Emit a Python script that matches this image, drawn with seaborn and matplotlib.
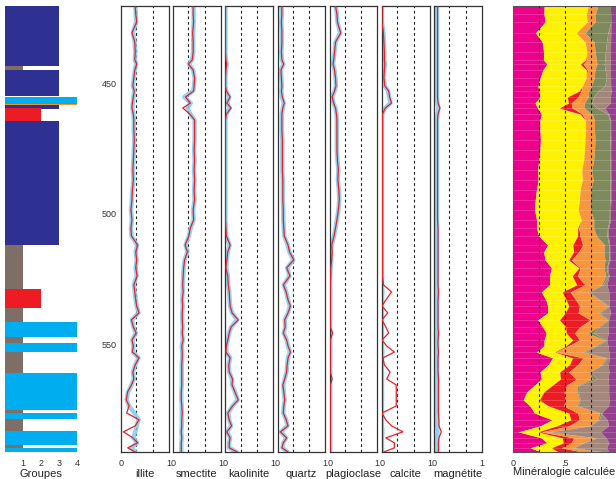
import numpy as np
import pandas as pd
import matplotlib
matplotlib.use("Agg")
import matplotlib.pyplot as plt
import seaborn as sns

# ---------------- data ----------------
profondeur = [420.5, 423.5, 426.6, 430.8, 434.3, 438.1, 441.1, 442.7, 445.0, 448.0,
              451.1, 453.0, 455.3, 457.6, 459.5, 461.8, 464.1, 467.9, 471.7, 475.5,
              479.4, 483.2, 487.0, 490.8, 494.6, 498.5, 502.3, 505.4, 508.4, 511.9,
              514.5, 517.6, 520.6, 523.7, 527.1, 529.8, 532.9, 535.2, 537.8, 540.5,
              543.2, 545.5, 548.2, 550.5, 552.8, 555.0, 557.7, 560.4, 563.1, 565.4,
              568.0, 571.1, 573.4, 576.1, 578.7, 581.0, 583.3, 585.6, 587.5, 589.4, 591.0]

illite_calc = [0.30,0.31,0.33,0.23,0.29,0.30,0.29,0.33,0.29,0.27, 0.25,0.28,0.26,0.24,0.23,0.26,0.27,0.27,0.28,0.27,
               0.26,0.25,0.26,0.24,0.23,0.21,0.23,0.21,0.22,0.35, 0.31,0.33,0.31,0.34,0.27,0.29,0.31,0.33,0.38,0.22,
               0.26,0.32,0.23,0.26,0.24,0.38,0.30,0.25,0.27,0.22, 0.14,0.11,0.17,0.12,0.38,0.30,0.05,0.25,0.35,0.14,0.30]
illite_mes = [0.30,0.31,0.32,0.25,0.29,0.30,0.29,0.32,0.29,0.27, 0.25,0.28,0.26,0.25,0.24,0.26,0.27,0.27,0.28,0.27,
              0.26,0.25,0.26,0.24,0.23,0.21,0.23,0.21,0.22,0.34, 0.31,0.33,0.31,0.33,0.27,0.29,0.31,0.33,0.37,0.23,
              0.26,0.31,0.24,0.26,0.25,0.37,0.30,0.25,0.27,0.22, 0.15,0.12,0.17,0.28,0.37,0.33,0.30,0.26,0.34,0.22,0.30]

smectite_calc = [0.42,0.42,0.43,0.41,0.42,0.42,0.40,0.32,0.42,0.45, 0.44,0.43,0.26,0.36,0.20,0.35,0.45,0.45,0.45,0.44,
                 0.45,0.44,0.45,0.44,0.45,0.42,0.43,0.36,0.33,0.25, 0.30,0.24,0.22,0.21,0.20,0.21,0.19,0.20,0.19,0.19,
                 0.20,0.19,0.21,0.18,0.19,0.19,0.18,0.18,0.18,0.18, 0.17,0.17,0.18,0.19,0.18,0.18,0.17,0.18,0.17,0.17,0.17]
smectite_mes = [0.43,0.43,0.43,0.42,0.42,0.42,0.40,0.33,0.42,0.45, 0.44,0.42,0.23,0.37,0.30,0.36,0.45,0.45,0.45,0.44,
                0.45,0.44,0.45,0.44,0.45,0.42,0.43,0.37,0.33,0.26, 0.30,0.24,0.22,0.21,0.20,0.20,0.19,0.20,0.19,0.19,
                0.20,0.19,0.20,0.18,0.19,0.19,0.18,0.18,0.18,0.18, 0.17,0.17,0.18,0.18,0.18,0.18,0.17,0.18,0.17,0.17,0.17]

kaolinite_calc = [0.00,0.00,0.00,0.00,0.00,0.00,0.01,0.03,0.01,0.00, 0.00,0.02,0.10,0.03,0.12,0.02,0.00,0.00,0.00,0.00,
                  0.00,0.00,0.00,0.00,0.00,0.00,0.00,0.01,0.02,0.10, 0.05,0.03,0.01,0.05,0.06,0.08,0.09,0.10,0.14,0.27,
                  0.12,0.08,0.05,0.02,0.01,0.10,0.07,0.08,0.15,0.14, 0.20,0.27,0.15,0.05,0.08,0.13,0.03,0.10,0.08,0.08,0.25]
kaolinite_mes = [0.00,0.00,0.00,0.00,0.00,0.00,0.01,0.03,0.01,0.00, 0.00,0.02,0.08,0.04,0.09,0.02,0.00,0.00,0.00,0.00,
                 0.00,0.00,0.00,0.00,0.00,0.00,0.00,0.01,0.02,0.09, 0.05,0.03,0.02,0.05,0.06,0.08,0.09,0.10,0.14,0.25,
                 0.12,0.08,0.05,0.02,0.02,0.10,0.07,0.08,0.14,0.14, 0.20,0.26,0.15,0.06,0.08,0.12,0.04,0.10,0.08,0.08,0.23]

quartz_calc = [0.09,0.09,0.08,0.09,0.09,0.08,0.09,0.13,0.07,0.08, 0.09,0.08,0.10,0.14,0.11,0.09,0.09,0.09,0.10,0.10,
               0.10,0.10,0.11,0.11,0.11,0.12,0.12,0.13,0.14,0.22, 0.25,0.34,0.19,0.26,0.12,0.18,0.22,0.27,0.22,0.15,
               0.16,0.12,0.19,0.22,0.27,0.22,0.20,0.19,0.15,0.11, 0.13,0.15,0.13,0.12,0.18,0.22,0.06,0.19,0.12,0.09,0.22]
quartz_mes = [0.08,0.09,0.08,0.09,0.09,0.08,0.09,0.12,0.07,0.08, 0.09,0.08,0.09,0.13,0.11,0.09,0.09,0.09,0.10,0.10,
              0.10,0.10,0.11,0.11,0.11,0.12,0.12,0.13,0.14,0.21, 0.25,0.33,0.20,0.25,0.13,0.18,0.22,0.26,0.22,0.15,
              0.16,0.13,0.19,0.22,0.26,0.22,0.20,0.19,0.15,0.12, 0.13,0.15,0.13,0.12,0.18,0.21,0.07,0.18,0.12,0.10,0.21]

plagioclase_calc = [0.12,0.15,0.16,0.23,0.12,0.10,0.08,0.07,0.10,0.12, 0.13,0.10,0.05,0.08,0.12,0.14,0.15,0.15,0.15,0.15,
                    0.16,0.18,0.17,0.19,0.20,0.18,0.15,0.12,0.09,0.04, 0.05,0.04,0.02,0.02,0.01,0.01,0.01,0.01,0.01,0.01,
                    0.01,0.06,0.01,0.01,0.01,0.01,0.01,0.01,0.05,0.01, 0.01,0.01,0.01,0.01,0.01,0.01,0.01,0.01,0.01,0.01,0.01]
plagioclase_mes = [0.12,0.15,0.16,0.22,0.12,0.10,0.08,0.07,0.10,0.12, 0.13,0.10,0.05,0.08,0.12,0.14,0.15,0.15,0.15,0.15,
                   0.16,0.18,0.17,0.19,0.20,0.18,0.15,0.12,0.09,0.04, 0.03,0.03,0.02,0.01,0.01,0.01,0.01,0.01,0.01,0.01,
                   0.01,0.01,0.01,0.01,0.01,0.01,0.01,0.01,0.01,0.01, 0.01,0.01,0.01,0.01,0.01,0.01,0.01,0.01,0.01,0.01,0.01]

calcite_calc = [0.00,0.00,0.00,0.03,0.04,0.05,0.05,0.06,0.05,0.04, 0.06,0.14,0.16,0.20,0.07,0.01,0.01,0.01,0.01,0.01,
                0.01,0.01,0.01,0.01,0.01,0.01,0.01,0.01,0.01,0.01, 0.01,0.01,0.01,0.01,0.03,0.20,0.08,0.00,0.12,0.00,
                0.08,0.14,0.00,0.10,0.26,0.02,0.05,0.17,0.10,0.30, 0.30,0.30,0.30,0.00,0.08,0.20,0.44,0.08,0.26,0.26,0.04]
calcite_mes = [0.00,0.00,0.00,0.03,0.04,0.05,0.05,0.06,0.05,0.04, 0.06,0.13,0.15,0.18,0.07,0.01,0.00,0.00,0.00,0.00,
               0.00,0.00,0.00,0.00,0.00,0.00,0.00,0.00,0.00,0.00, 0.00,0.00,0.00,0.00,0.00,0.01,0.00,0.00,0.00,0.00,
               0.00,0.00,0.00,0.00,0.01,0.00,0.00,0.00,0.00,0.00, 0.00,0.00,0.00,0.00,0.00,0.00,0.01,0.00,0.00,0.00,0.00]

magnetite_calc = [0.07,0.07,0.07,0.07,0.07,0.07,0.07,0.07,0.07,0.07, 0.07,0.07,0.07,0.08,0.12,0.08,0.07,0.07,0.07,0.07,
                  0.07,0.07,0.07,0.07,0.07,0.07,0.07,0.08,0.08,0.08, 0.08,0.08,0.08,0.08,0.08,0.09,0.08,0.08,0.08,0.08,
                  0.08,0.09,0.08,0.08,0.09,0.08,0.08,0.08,0.09,0.09, 0.09,0.09,0.09,0.09,0.10,0.10,0.15,0.10,0.09,0.09,0.09]
magnetite_mes = [0.06,0.06,0.06,0.06,0.06,0.06,0.06,0.06,0.06,0.06, 0.06,0.06,0.06,0.07,0.09,0.07,0.06,0.06,0.06,0.06,
                 0.06,0.06,0.06,0.06,0.06,0.06,0.06,0.06,0.06,0.06, 0.06,0.06,0.06,0.06,0.06,0.06,0.06,0.06,0.06,0.06,
                 0.06,0.06,0.06,0.06,0.06,0.06,0.06,0.06,0.06,0.06, 0.06,0.06,0.06,0.06,0.06,0.06,0.07,0.06,0.06,0.06,0.06]

mineraux = ["illite", "smectite", "kaolinite", "quartz", "plagioclase", "calcite", "magnétite"]
mesure = [illite_mes, smectite_mes, kaolinite_mes, quartz_mes, plagioclase_mes, calcite_mes, magnetite_mes]
calcul = [illite_calc, smectite_calc, kaolinite_calc, quartz_calc, plagioclase_calc, calcite_calc, magnetite_calc]

# groups column: intervals (top, bottom) and group code
groupe_haut = [420.5, 443.5, 445.0, 455.2, 458.0, 458.4, 459.6, 464.6, 511.9, 528.7, 536.0, 541.3,
               547.0, 549.4, 552.8, 560.9, 565.5, 575.0, 576.2, 578.5, 583.0, 588.4, 589.6]
groupe_bas = [443.5, 445.0, 455.0, 458.0, 458.4, 460.0, 464.6, 511.9, 528.7, 536.0, 541.3, 547.0,
              549.4, 552.8, 560.9, 565.3, 575.0, 576.2, 578.5, 583.0, 588.4, 589.6, 591.0]
groupe = [3, 1, 3, 4, 5, 3, 2, 3, 1, 2, 1, 4, 1, 4, 1, 4, 4, 1, 4, 1, 4, 1, 4]

# ---------------- style ----------------
sns.set_style("white")
plt.rcParams["font.family"] = ["Liberation Sans", "DejaVu Sans"]

W, H = 616, 479
fig = plt.figure(figsize=(W / 100, H / 100), dpi=100)
top_px, bot_px = 6, 452
ylim = (591.0, 420.5)

def ax_at(x0, x1):
    return fig.add_axes([x0 / W, 1 - bot_px / H, (x1 - x0) / W, (bot_px - top_px) / H])

col_grp = {1: "#7f6e66", 2: "#ed1c24", 3: "#2e3192", 4: "#00aeef", 5: "#f7941d"}
TICK = 6.5
LAB = 8

# groups column
axg = ax_at(4.6, 77)
for t, b, g in zip(groupe_haut, groupe_bas, groupe):
    axg.barh((t + b) / 2, min(g, 4), height=(b - t), left=0, color=col_grp[g], linewidth=0)
axg.set_xlim(0, 4)
axg.set_ylim(*ylim)
axg.set_xticks([1, 2, 3, 4])
axg.set_yticks([])
for s in axg.spines.values():
    s.set_visible(False)
axg.tick_params(axis="x", length=0, labelsize=TICK, pad=5, colors="#333333")
axg.set_xlabel("Groupes", fontsize=LAB, labelpad=1, color="#222222")

# mineral panels
lefts = [121, 173.2, 225.4, 277.6, 329.8, 382, 434.2]
pw = 47.5
dep = np.array(profondeur)
for i, (name, mes, cal) in enumerate(zip(mineraux, mesure, calcul)):
    ax = ax_at(lefts[i], lefts[i] + pw)
    df = pd.DataFrame({"prof": dep, "mes": mes, "cal": cal})
    for xv in (0.32, 0.665):
        ax.axvline(xv, color="#222222", lw=0.8, ls=(0, (2.5, 2.5)), zorder=1)
    sns.lineplot(data=df, x="mes", y="prof", orient="y", sort=False, estimator=None,
                 ax=ax, color="#7fcdee", lw=3.2, alpha=0.85, zorder=2)
    sns.lineplot(data=df, x="cal", y="prof", orient="y", sort=False, estimator=None,
                 ax=ax, color="#e8202a", lw=0.9, zorder=3)
    ax.set_xlim(0, 1)
    ax.set_ylim(*ylim)
    ax.set_xticks([0, 1])
    ax.set_xticklabels(["0", "1"])
    ax.set_xlabel(name, fontsize=LAB, labelpad=1, color="#222222")
    ax.set_ylabel("")
    ax.tick_params(axis="x", direction="in", length=2, labelsize=TICK, pad=5, colors="#333333")
    if i == 0:
        ax.set_yticks([450, 500, 550])
        ax.tick_params(axis="y", direction="in", length=2, labelsize=TICK, pad=3, colors="#333333")
    else:
        ax.set_yticks([])
    for s in ax.spines.values():
        s.set_color("#333333")
        s.set_linewidth(0.9)

# calculated mineralogy (stacked, normalised)
axm = ax_at(512.7, 617.7)
comp = np.array(calcul, dtype=float)
comp = comp / comp.sum(axis=0)
cum = np.vstack([np.zeros(len(dep)), np.cumsum(comp, axis=0)])
col_min = ["#ec008c", "#fff200", "#ed1c24", "#f7963f", "#7e8a5c", "#a3877a", "#93408f"]
for k in range(len(mineraux)):
    axm.fill_betweenx(dep, cum[k], cum[k + 1], color=col_min[k], linewidth=0, zorder=1)
for d in profondeur:
    axm.axhline(d, color="white", lw=0.4, alpha=0.3, zorder=2)
for xv in (0.25, 0.5, 0.75):
    axm.axvline(xv, color="#222222", lw=0.8, ls=(0, (2.5, 2.5)), zorder=3)
axm.set_xlim(0, 1)
axm.set_ylim(*ylim)
axm.set_xticks([0, 0.5])
axm.set_xticklabels(["0", ".5"])
axm.set_yticks([])
axm.tick_params(axis="x", direction="in", length=2, labelsize=TICK, pad=5, colors="#333333")
axm.set_xlabel("Minéralogie calculée", fontsize=LAB, labelpad=1, color="#222222")
axm.xaxis.set_label_coords(0.49, -0.0)
axm.xaxis.label.set_va("top")
axm.xaxis.set_label_coords(0.49, -0.034)
for s in axm.spines.values():
    s.set_color("#555555")
    s.set_linewidth(0.8)

fig.savefig("out.png", dpi=100)
